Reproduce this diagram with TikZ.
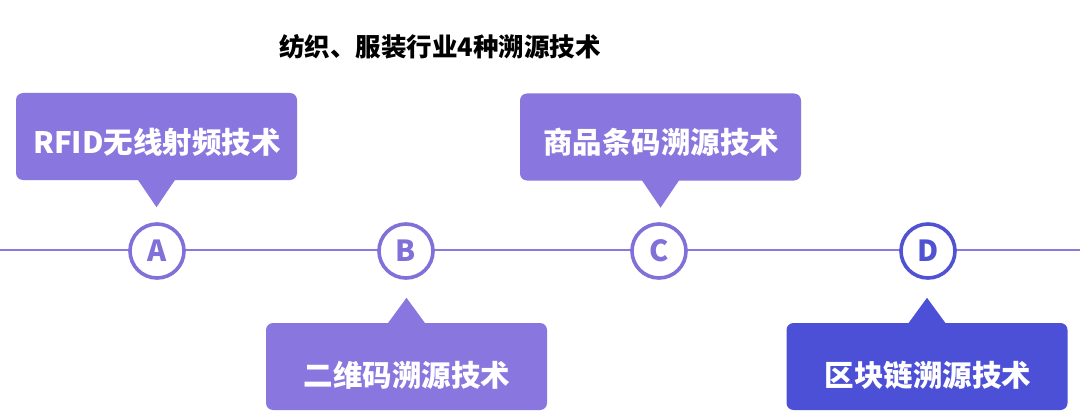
\documentclass[tikz,border=0pt]{standalone}
\usepackage{fontspec}
\newfontfamily\cjk{Noto Sans CJK SC}
\definecolor{boxpurple}{RGB}{137,118,222}
\definecolor{boxblue}{RGB}{76,80,214}
\definecolor{ringpurple}{RGB}{128,112,216}
\definecolor{ringblue}{RGB}{80,82,210}
\definecolor{linepurple}{RGB}{135,124,222}
\tikzset{
  tagbox/.style={rectangle, rounded corners=7pt, minimum width=281pt, minimum height=87pt, inner sep=0pt, fill=boxpurple},
  tagtext/.style={font=\cjk\bfseries\fontsize{29.5}{32}\selectfont, text=white, inner sep=0pt},
  ring/.style={circle, draw=ringpurple, line width=3.6pt, fill=white, minimum size=54pt, inner sep=0pt, text=ringpurple, font=\cjk\bfseries\fontsize{29}{30}\selectfont},
  pointer/.style={fill=boxpurple}
}
\begin{document}
\begin{tikzpicture}[x=1pt,y=-1pt]
\useasboundingbox (0,0) rectangle (1080,420);
\fill[white] (0,0) rectangle (1080,420);
% title
\node[font=\cjk\bfseries\fontsize{25.5}{28}\selectfont, text=black, inner sep=0pt] (title) at (440,47) {纺织、服装行业4种溯源技术};
% timeline
\coordinate (lstart) at (0,250);
\coordinate (lend) at (1080,250);
\draw[linepurple, line width=1.8pt] (lstart) -- (lend);
% circles
\node[ring] (A) at (157,251) {A};
\node[ring] (B) at (406,251) {B};
\node[ring] (C) at (659,251) {C};
\node[ring, draw=ringblue, text=ringblue] (D) at (928,251) {D};
% boxes
\node[tagbox] (bA) at (156.5,136.5) {};
\node[tagbox] (bC) at (660.5,137) {};
\node[tagbox] (bB) at (406.5,366.5) {};
\node[tagbox, fill=boxblue] (bD) at (927,366.5) {};
% pointers
\fill[pointer] ([xshift=-19pt,yshift=1pt]bA.south) -- ([yshift=-27pt]bA.south) -- ([xshift=19pt,yshift=1pt]bA.south) -- cycle;
\fill[pointer] ([xshift=-19pt,yshift=1pt]bC.south) -- ([yshift=-27pt]bC.south) -- ([xshift=19pt,yshift=1pt]bC.south) -- cycle;
\fill[pointer] ([xshift=-19pt,yshift=-1pt]bB.north) -- ([yshift=25pt]bB.north) -- ([xshift=19pt,yshift=-1pt]bB.north) -- cycle;
\fill[pointer, fill=boxblue] ([xshift=-19pt,yshift=-1pt]bD.north) -- ([yshift=25pt]bD.north) -- ([xshift=19pt,yshift=-1pt]bD.north) -- cycle;
% texts
\node[tagtext] (tA) at (157,142) {RFID无线射频技术};
\node[tagtext] (tC) at (661,142) {商品条码溯源技术};
\node[tagtext] (tB) at (407,375) {二维码溯源技术};
\node[tagtext] (tD) at (928,375) {区块链溯源技术};
\end{tikzpicture}
\end{document}
